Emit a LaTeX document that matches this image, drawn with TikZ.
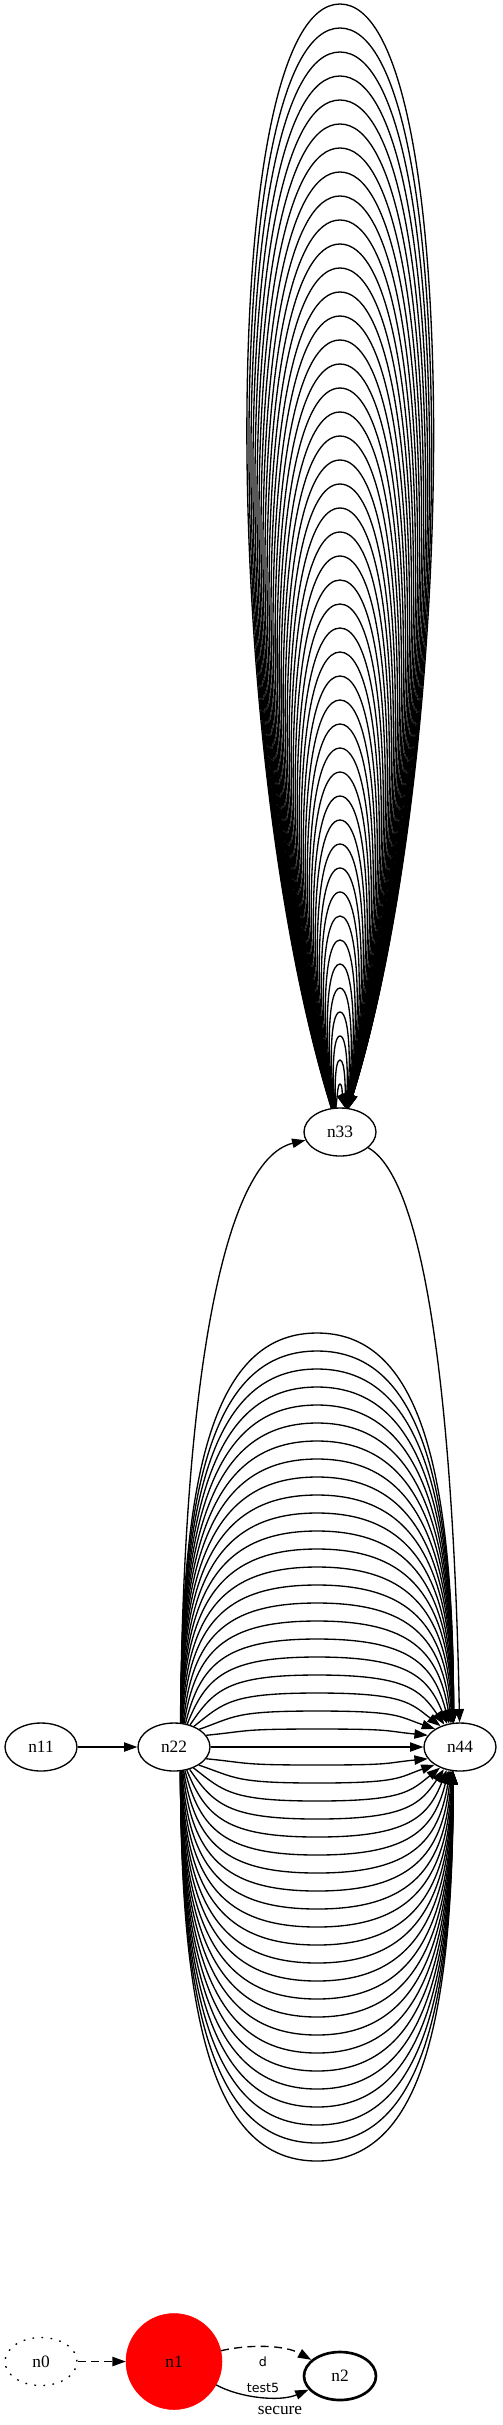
\documentclass[tikz,border=0pt]{standalone}
\usepackage{fontspec}
\setmainfont{Liberation Serif}
\newfontfamily\lblfont{DejaVu Sans}
\usetikzlibrary{arrows.meta,shapes.geometric}
\begin{document}
\begin{tikzpicture}[x=0.75pt,y=0.75pt,
  gnode/.style={draw,ellipse,minimum width=54pt,minimum height=36pt,inner sep=0pt,line width=1pt,font=\fontsize{13}{15}\selectfont},
  edge/.style={line width=1pt,-{Triangle[length=10pt,width=7pt]}},
  dashededge/.style={edge,dash pattern=on 6pt off 4pt},
  elabel/.style={font=\lblfont\fontsize{9.5}{11}\selectfont,inner sep=0pt},
  tlabel/.style={font=\fontsize{13}{15}\selectfont,inner sep=0pt}]
\useasboundingbox (0,0) rectangle (503,-2425);

% nodes
\node[gnode] (n33) at (340,-1132) {n33};
\node[gnode] (n11) at (41,-1747) {n11};
\node[gnode] (n22) at (174,-1747) {n22};
\node[gnode] (n44) at (460,-1747) {n44};
\node[gnode,dash pattern=on 1.3pt off 5.5pt] (n0) at (41,-2361.5) {n0};
\node[circle,fill=red,draw=red,minimum size=72pt,inner sep=0pt,font=\fontsize{13}{15}\selectfont] (n1) at (174,-2361.5) {n1};
\node[gnode,line width=2pt] (n2) at (340,-2376) {n2};

% main edges
\draw[edge] (n11) -- (n22);
\draw[edge] (n22.75) .. controls (183,-1390) and (222,-1160) .. (n33);
\draw[edge] (n33) .. controls (435,-1185) and (455,-1480) .. (n44);
\draw[edge] (n22) -- (n44);

% self loops on n33
\foreach \ii in {1,...,46}{
  \pgfmathsetmacro{\lpH}{24*(\ii+1)}
  \pgfmathsetmacro{\lpD}{8*\ii/3}
  \pgfmathsetmacro{\lpS}{100+10*\ii/46}
  \pgfmathsetmacro{\lpE}{80-10*\ii/46}
  \pgfmathsetmacro{\lpT}{-1132+\lpH}
  \pgfmathsetmacro{\lpC}{-1108+(\lpH-24)/3}
  \pgfmathsetmacro{\lpL}{340-\lpD}
  \pgfmathsetmacro{\lpR}{340+\lpD}
  \draw[edge] (n33.\lpS) .. controls (\lpL,\lpC) and (\lpL,\lpT) .. (340,\lpT)
     .. controls (\lpR,\lpT) and (\lpR,\lpC) .. (n33.\lpE);
}

% multi edges n22 -> n44
\foreach \kk in {1,...,23}{
 \foreach \sg in {1,-1}{
  \pgfmathsetmacro{\tha}{75-55*exp(-(\kk-1)/3)}
  \pgfmathsetmacro{\rr}{1/sqrt((cos(\tha)/36)^2+(sin(\tha)/24)^2)}
  \pgfmathsetmacro{\sx}{174+\rr*cos(\tha)}
  \pgfmathsetmacro{\sy}{-1747+\sg*\rr*sin(\tha)}
  \pgfmathsetmacro{\ay}{-1747+\sg*18*\kk}
  \pgfmathsetmacro{\ww}{317-\sx}
  \pgfmathsetmacro{\lam}{0.4*exp(-(\kk-1)/4)}
  \pgfmathsetmacro{\cya}{\sy+0.7*(\ay-\sy)}
  \pgfmathsetmacro{\cxa}{\sx+\lam*\ww}
  \pgfmathsetmacro{\cxb}{317-0.7*\ww}
  \pgfmathsetmacro{\cxc}{634-\cxb}
  \pgfmathsetmacro{\cxd}{634-\cxa}
  \pgfmathsetmacro{\anga}{mod(360+\sg*\tha,360)}
  \pgfmathsetmacro{\angb}{180-\sg*\tha}
  \draw[edge] (n22.\anga) .. controls (\cxa,\cya) and (\cxb,\ay) .. (317,\ay)
     .. controls (\cxc,\ay) and (\cxd,\cya) .. (n44.\angb);
 }
}

% bottom graph
\draw[dashededge] (n0) -- (n1);
\draw[dashededge] (n1) .. controls (250,-2344) and (285,-2345) .. (n2);
\draw[edge] (n1) .. controls (240,-2398) and (280,-2402) .. (n2);
\node[elabel] (ld) at (263,-2362) {d};
\node[elabel] (lt) at (263,-2388) {test5};
\node[tlabel] (ls) at (280,-2410) {secure};
\end{tikzpicture}
\end{document}
